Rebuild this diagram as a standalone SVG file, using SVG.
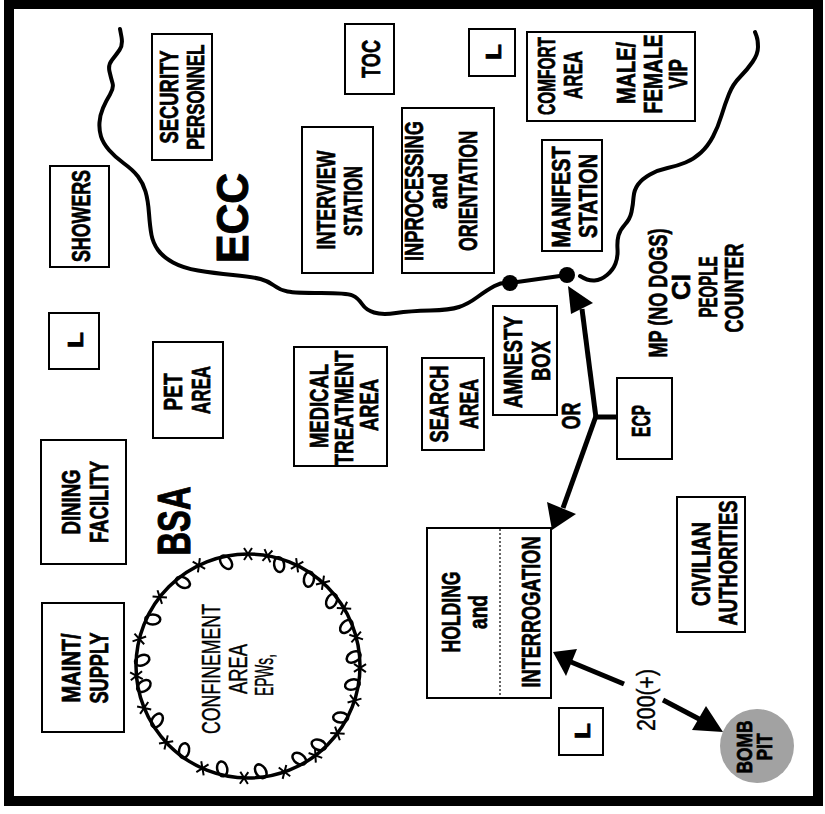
<svg xmlns="http://www.w3.org/2000/svg" width="825" height="814" viewBox="0 0 825 814">
<style>
.box{fill:#fff;stroke:#000;stroke-width:2}
.t{font-family:"Liberation Sans",Arial,sans-serif;font-weight:bold;font-size:25px;text-anchor:middle;fill:#000;stroke:#000;stroke-width:0.7}
.n{font-weight:normal;stroke-width:0.4}
.s22{font-size:22px}
.s23{font-size:23px}
.big{font-size:44px;stroke-width:1}
.line{fill:none;stroke:#000;stroke-width:4;stroke-linecap:round;stroke-linejoin:round}
.conn{fill:none;stroke:#000;stroke-width:5}
.head{fill:#000}
.wire{fill:none;stroke:#000;stroke-width:3.5}
.barb{fill:none;stroke:#000;stroke-width:2}
.curl{fill:none;stroke:#000;stroke-width:2.5}
</style>
<defs>
<path id="barb" class="barb" d="M-4,-6 L4,6 M4,-6 L-4,6"/>
<ellipse id="curl" class="curl" cx="2" cy="6" rx="5" ry="7.5" transform="rotate(-25 2 6)"/>
</defs>
<rect x="0" y="0" width="825" height="814" fill="#fff"/>
<rect x="9" y="4" width="809" height="797" fill="none" stroke="#000" stroke-width="10"/>

<g id="perimeter">
<path class="line" d="M120,29 L121.5,37 Q123,45 119.5,50 Q116,55 112,60 Q108,65 109.5,71.5 Q111,78 112.5,83 Q114,88 110,94.5 Q106,101 103,108 Q100,115 99.5,122.5 Q99,130 101,136.5 Q103,143 109,150 Q115,157 124,163.5 Q133,170 138,176.5 Q143,183 145.5,191.5 Q148,200 149,213.5 Q150,227 151.5,235 Q153,243 158,250 Q163,257 173,262.5 Q183,268 198,270.5 Q213,273 233,275 Q253,277 260.5,279 Q268,281 274,285.5 Q280,290 287.5,291.5 Q295,293 321,293 Q347,293 352.5,295.5 Q358,298 362,304 Q366,310 374,312.5 Q382,315 396,313 Q410,311 430,310.5 Q450,310 459,307 Q468,304 477.5,297 Q487,290 494.5,286 Q502,282 510,283"/>
<path class="line" d="M580,276 Q588,281 594.5,280.5 Q601,280 607,275 Q613,270 615.5,263.5 Q618,257 617.5,249 Q617,241 618.5,235.5 Q620,230 625,224.5 Q630,219 631.5,212 Q633,205 633.5,197.5 Q634,190 638,184.5 Q642,179 650,174.5 Q658,170 667.5,168 Q677,166 685.5,162.5 Q694,159 701,152.5 Q708,146 713,136.5 Q718,127 721.5,115.5 Q725,104 729,94 Q733,84 740,77 Q747,70 752.5,62 Q758,54 758,47 Q758,40 756.5,36 L755,32"/>
</g>

<g id="connectors">
<line class="line" x1="510" y1="283" x2="567" y2="275"/>
<circle cx="510" cy="283" r="8" fill="#000"/>
<circle cx="567" cy="275" r="8" fill="#000"/>
<line class="conn" x1="596" y1="417" x2="618" y2="417" stroke-width="4"/>
<line class="conn" x1="596" y1="418" x2="582" y2="309"/>
<polygon class="head" points="568,286 593,303 571,314"/>
<line class="conn" x1="596" y1="416" x2="563" y2="508"/>
<polygon class="head" points="552,530 547,502 576,514"/>
<line class="conn" x1="624" y1="684" x2="571" y2="662"/>
<polygon class="head" points="553,652 577,649 566,676"/>
<line class="conn" x1="663" y1="700" x2="701" y2="720"/>
<polygon class="head" points="723,732 706,706 692,730"/>
</g>

<g id="security-personnel">
<rect class="box" x="152" y="34" width="60" height="126"/>
<text class="t" transform="translate(178 97) rotate(-90)" textLength="93" lengthAdjust="spacingAndGlyphs">SECURITY</text>
<text class="t s23" transform="translate(204 97) rotate(-90)" textLength="105" lengthAdjust="spacingAndGlyphs">PERSONNEL</text>
</g>
<g id="toc">
<rect class="box" x="345" y="24" width="49" height="70"/>
<text class="t" transform="translate(380 59) rotate(-90)" textLength="38" lengthAdjust="spacingAndGlyphs">TOC</text>
</g>
<g id="showers">
<rect class="box" x="50" y="166" width="59" height="101"/>
<text class="t" transform="translate(90 216) rotate(-90)" textLength="92" lengthAdjust="spacingAndGlyphs">SHOWERS</text>
</g>
<g id="latrine-1">
<rect class="box" x="49" y="313" width="50" height="56"/>
<text class="t s22" transform="translate(83 340) rotate(-90)" textLength="16" lengthAdjust="spacingAndGlyphs">L</text>
</g>
<g id="interview-station">
<rect class="box" x="302" y="127" width="71" height="146"/>
<text class="t" transform="translate(335 200) rotate(-90)" textLength="99" lengthAdjust="spacingAndGlyphs">INTERVIEW</text>
<text class="t" transform="translate(362 201) rotate(-90)" textLength="70" lengthAdjust="spacingAndGlyphs">STATION</text>
</g>
<g id="inprocessing-orientation">
<rect class="box" x="402" y="108" width="92" height="165"/>
<text class="t" transform="translate(423 191) rotate(-90)" textLength="140" lengthAdjust="spacingAndGlyphs">INPROCESSING</text>
<text class="t" transform="translate(447 191) rotate(-90)" textLength="36" lengthAdjust="spacingAndGlyphs">and</text>
<text class="t" transform="translate(477 191) rotate(-90)" textLength="120" lengthAdjust="spacingAndGlyphs">ORIENTATION</text>
</g>
<g id="latrine-2">
<rect class="box" x="469" y="29" width="46" height="47"/>
<text class="t s22" transform="translate(501 52) rotate(-90)" textLength="16" lengthAdjust="spacingAndGlyphs">L</text>
</g>
<g id="comfort-area">
<rect class="box" x="527" y="32" width="168" height="89"/>
<text class="t s23" transform="translate(555 76) rotate(-90)" textLength="78" lengthAdjust="spacingAndGlyphs">COMFORT</text>
<text class="t" transform="translate(582 75) rotate(-90)" textLength="48" lengthAdjust="spacingAndGlyphs">AREA</text>
<text class="t" transform="translate(635 73) rotate(-90)" textLength="62" lengthAdjust="spacingAndGlyphs">MALE/</text>
<text class="t" transform="translate(662 74) rotate(-90)" textLength="79" lengthAdjust="spacingAndGlyphs">FEMALE</text>
<text class="t" transform="translate(687 74) rotate(-90)" textLength="30" lengthAdjust="spacingAndGlyphs">VIP</text>
</g>
<g id="manifest-station">
<rect class="box" x="542" y="140" width="60" height="111"/>
<text class="t" transform="translate(570 197) rotate(-90)" textLength="101" lengthAdjust="spacingAndGlyphs">MANIFEST</text>
<text class="t" transform="translate(597 196) rotate(-90)" textLength="84" lengthAdjust="spacingAndGlyphs">STATION</text>
</g>
<g id="ecc-label">
<text class="t big" transform="translate(248 218) rotate(-90)" textLength="90" lengthAdjust="spacingAndGlyphs">ECC</text>
</g>
<g id="mp-label">
<text class="t" transform="translate(667 293) rotate(-90)" textLength="129" lengthAdjust="spacingAndGlyphs">MP (NO DOGS)</text>
<text class="t" transform="translate(690 287) rotate(-90)" textLength="26" lengthAdjust="spacingAndGlyphs">CI</text>
<text class="t" transform="translate(717 287) rotate(-90)" textLength="61" lengthAdjust="spacingAndGlyphs">PEOPLE</text>
<text class="t" transform="translate(743 288) rotate(-90)" textLength="89" lengthAdjust="spacingAndGlyphs">COUNTER</text>
</g>
<g id="pet-area">
<rect class="box" x="153" y="342" width="70" height="96"/>
<text class="t" transform="translate(182 392) rotate(-90)" textLength="37" lengthAdjust="spacingAndGlyphs">PET</text>
<text class="t" transform="translate(210 390) rotate(-90)" textLength="48" lengthAdjust="spacingAndGlyphs">AREA</text>
</g>
<g id="medical-treatment-area">
<rect class="box" x="294" y="347" width="93" height="119"/>
<text class="t" transform="translate(328 406) rotate(-90)" textLength="84" lengthAdjust="spacingAndGlyphs">MEDICAL</text>
<text class="t" transform="translate(353 408) rotate(-90)" textLength="115" lengthAdjust="spacingAndGlyphs">TREATMENT</text>
<text class="t" transform="translate(378 405) rotate(-90)" textLength="52" lengthAdjust="spacingAndGlyphs">AREA</text>
</g>
<g id="search-area">
<rect class="box" x="422" y="358" width="62" height="92"/>
<text class="t" transform="translate(448 404) rotate(-90)" textLength="77" lengthAdjust="spacingAndGlyphs">SEARCH</text>
<text class="t" transform="translate(478 404) rotate(-90)" textLength="50" lengthAdjust="spacingAndGlyphs">AREA</text>
</g>
<g id="amnesty-box">
<rect class="box" x="493" y="306" width="64" height="109"/>
<text class="t" transform="translate(522 362) rotate(-90)" textLength="92" lengthAdjust="spacingAndGlyphs">AMNESTY</text>
<text class="t" transform="translate(550 361) rotate(-90)" textLength="40" lengthAdjust="spacingAndGlyphs">BOX</text>
</g>
<g id="or-label">
<text class="t" transform="translate(580 416) rotate(-90)" textLength="27" lengthAdjust="spacingAndGlyphs">OR</text>
</g>
<g id="ecp">
<rect class="box" x="617" y="378" width="55" height="81"/>
<text class="t" transform="translate(650 421) rotate(-90)" textLength="32" lengthAdjust="spacingAndGlyphs">ECP</text>
</g>
<g id="dining-facility">
<rect class="box" x="41" y="440" width="85" height="124"/>
<text class="t" transform="translate(80 502) rotate(-90)" textLength="65" lengthAdjust="spacingAndGlyphs">DINING</text>
<text class="t" transform="translate(108 502) rotate(-90)" textLength="82" lengthAdjust="spacingAndGlyphs">FACILITY</text>
</g>
<g id="bsa-label">
<text class="t big" transform="translate(190 521) rotate(-90)" style="font-size:46px" textLength="69" lengthAdjust="spacingAndGlyphs">BSA</text>
</g>
<g id="maint-supply">
<rect class="box" x="42" y="603" width="82" height="129"/>
<text class="t" transform="translate(80 668) rotate(-90)" textLength="69" lengthAdjust="spacingAndGlyphs">MAINT/</text>
<text class="t" transform="translate(108 668) rotate(-90)" textLength="71" lengthAdjust="spacingAndGlyphs">SUPPLY</text>
</g>
<g id="confinement-area">
<circle class="wire" cx="248" cy="666" r="112"/>
<use href="#curl" transform="rotate(347 248 666) translate(248 554)"/>
<use href="#curl" transform="rotate(16 248 666) translate(248 554)"/>
<use href="#curl" transform="rotate(34 248 666) translate(248 554)"/>
<use href="#curl" transform="rotate(51 248 666) translate(248 554)"/>
<use href="#curl" transform="rotate(67 248 666) translate(248 554)"/>
<use href="#curl" transform="rotate(84 248 666) translate(248 554)"/>
<use href="#curl" transform="rotate(99 248 666) translate(248 554)"/>
<use href="#curl" transform="rotate(118 248 666) translate(248 554)"/>
<use href="#curl" transform="rotate(137 248 666) translate(248 554)"/>
<use href="#curl" transform="rotate(150 248 666) translate(248 554)"/>
<use href="#curl" transform="rotate(172 248 666) translate(248 554)"/>
<use href="#curl" transform="rotate(193 248 666) translate(248 554)"/>
<use href="#curl" transform="rotate(216 248 666) translate(248 554)"/>
<use href="#curl" transform="rotate(238 248 666) translate(248 554)"/>
<use href="#curl" transform="rotate(258 248 666) translate(248 554)"/>
<use href="#curl" transform="rotate(272 248 666) translate(248 554)"/>
<use href="#curl" transform="rotate(295 248 666) translate(248 554)"/>
<use href="#curl" transform="rotate(321 248 666) translate(248 554)"/>
<use href="#barb" transform="rotate(0 248 666) translate(248 554)"/>
<use href="#barb" transform="rotate(10 248 666) translate(248 554)"/>
<use href="#barb" transform="rotate(26 248 666) translate(248 554)"/>
<use href="#barb" transform="rotate(42 248 666) translate(248 554)"/>
<use href="#barb" transform="rotate(59 248 666) translate(248 554)"/>
<use href="#barb" transform="rotate(75 248 666) translate(248 554)"/>
<use href="#barb" transform="rotate(91 248 666) translate(248 554)"/>
<use href="#barb" transform="rotate(108 248 666) translate(248 554)"/>
<use href="#barb" transform="rotate(127 248 666) translate(248 554)"/>
<use href="#barb" transform="rotate(143 248 666) translate(248 554)"/>
<use href="#barb" transform="rotate(161 248 666) translate(248 554)"/>
<use href="#barb" transform="rotate(182 248 666) translate(248 554)"/>
<use href="#barb" transform="rotate(204 248 666) translate(248 554)"/>
<use href="#barb" transform="rotate(227 248 666) translate(248 554)"/>
<use href="#barb" transform="rotate(248 248 666) translate(248 554)"/>
<use href="#barb" transform="rotate(265 248 666) translate(248 554)"/>
<use href="#barb" transform="rotate(284 248 666) translate(248 554)"/>
<use href="#barb" transform="rotate(308 248 666) translate(248 554)"/>
<use href="#barb" transform="rotate(334 248 666) translate(248 554)"/>
<text class="t n" style="font-size:26px" transform="translate(220 669) rotate(-90)" textLength="130" lengthAdjust="spacingAndGlyphs">CONFINEMENT</text>
<text class="t n" style="font-size:26px" transform="translate(247 669) rotate(-90)" textLength="50" lengthAdjust="spacingAndGlyphs">AREA</text>
<text class="t n" style="font-size:26px" transform="translate(273 675) rotate(-90)" textLength="42" lengthAdjust="spacingAndGlyphs">EPWs,</text>
</g>
<g id="holding-interrogation">
<rect class="box" x="427" y="528" width="124" height="170"/>
<line x1="500" y1="529" x2="500" y2="697" stroke="#000" stroke-width="1.2" stroke-dasharray="2 2"/>
<text class="t" transform="translate(460 612) rotate(-90)" textLength="81" lengthAdjust="spacingAndGlyphs">HOLDING</text>
<text class="t" transform="translate(487 612) rotate(-90)" textLength="34" lengthAdjust="spacingAndGlyphs">and</text>
<text class="t" transform="translate(540 612) rotate(-90)" textLength="151" lengthAdjust="spacingAndGlyphs">INTERROGATION</text>
</g>
<g id="civilian-authorities">
<rect class="box" x="677" y="497" width="68" height="135"/>
<text class="t" transform="translate(710 564) rotate(-90)" textLength="84" lengthAdjust="spacingAndGlyphs">CIVILIAN</text>
<text class="t" transform="translate(737 563) rotate(-90)" textLength="125" lengthAdjust="spacingAndGlyphs">AUTHORITIES</text>
</g>
<g id="latrine-3">
<rect class="box" x="559" y="708" width="44" height="47"/>
<text class="t s22" transform="translate(590 731) rotate(-90)" textLength="16" lengthAdjust="spacingAndGlyphs">L</text>
</g>
<g id="distance-label">
<text class="t n" transform="translate(655 700) rotate(-90)" textLength="62" lengthAdjust="spacingAndGlyphs">200(+)</text>
</g>
<g id="bomb-pit">
<circle cx="757" cy="746" r="37" fill="#a2a2a2"/>
<text class="t s22" transform="translate(752 747) rotate(-90)" textLength="53" lengthAdjust="spacingAndGlyphs">BOMB</text>
<text class="t s22" transform="translate(772 747) rotate(-90)" textLength="27" lengthAdjust="spacingAndGlyphs">PIT</text>
</g>
</svg>
